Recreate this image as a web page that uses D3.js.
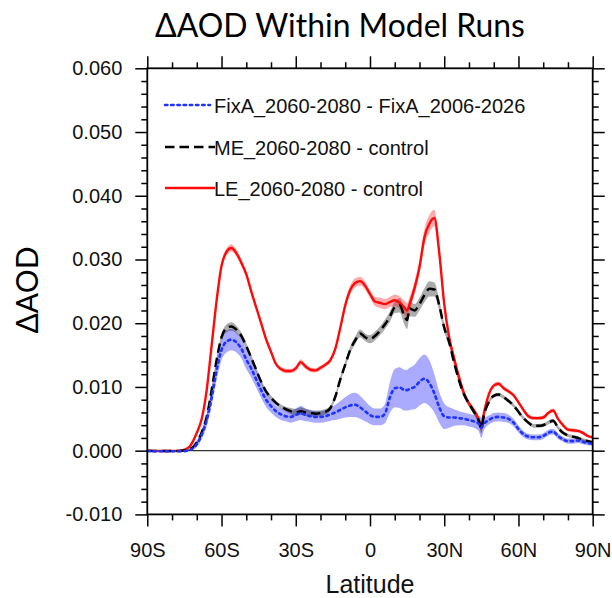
<!DOCTYPE html>
<html><head><meta charset="utf-8">
<script src="https://cdn.jsdelivr.net/npm/d3@7"></script>
<style>body{margin:0;background:#fff}svg{display:block}</style>
</head><body><svg id="c" width="612" height="598"></svg>
<script>
// ---- data (values in units of 0.001 AOD) ----
const lats = [-90,-85,-80,-76,-73,-70,-68,-66,-64,-62,
  -60,-58,-56,-54,-52,-50,-48,-46,-44,-42,
  -40,-38,-36,-34,-32,-30,-28,-26,-24,-22,
  -20,-18,-16,-14,-12,-10,-8,-6,-4,-2,
  0,2,4,6,8,10,12,14,15,16,
  18,20,22,24,26,28,30,32,34,36,
  38,40,42,44,45,46,48,50,52,54,
  56,58,60,62,64,66,68,70,72,74,
  76,78,80,82,84,86,88,90];

const leMean = [0,-0.05,-0.05,0.05,0.6,2.8,5.0,9.5,16.5,23.5,
  29.0,31.2,31.8,31.0,29.5,27.7,25.0,22.5,20.0,17.5,
  15.5,13.6,12.8,12.5,12.5,12.9,13.9,13.2,12.7,12.6,
  13.0,13.5,14.2,16.0,19.3,22.8,25.2,26.3,26.6,25.9,
  24.6,23.4,23.2,23.0,23.3,23.6,23.2,22.4,22.0,23.0,
  25.5,28.8,33.5,35.6,36.5,31.0,23.0,17.8,14.5,11.5,
  9.0,7.4,6.3,4.8,3.7,5.8,8.8,10.2,10.5,9.8,
  9.3,8.7,7.6,6.4,5.4,5.1,5.1,5.2,5.9,6.3,
  5.0,4.0,3.3,3.2,3.1,2.8,2.3,2.1];

const meMean = [0,-0.05,-0.05,0,0.2,1.3,2.9,5.3,9.5,14.2,
  17.8,19.2,19.5,19.0,18.0,16.4,14.6,12.7,10.8,9.3,
  8.3,7.5,6.9,6.5,6.2,6.0,6.2,6.0,5.9,5.8,
  5.9,6.1,6.7,8.5,11.2,13.5,15.8,17.3,18.4,17.8,
  17.5,18.0,18.8,19.8,21.0,22.5,22.8,21.0,20.5,22.3,
  22.0,23.0,24.4,25.4,25.3,22.8,19.3,17.0,13.8,11.0,
  8.8,7.4,6.1,4.7,3.5,5.5,7.6,8.6,8.8,8.4,
  7.8,7.1,6.1,5.1,4.4,3.9,3.9,4.0,4.4,4.7,
  3.6,2.8,2.4,2.2,2.0,1.7,1.5,1.3];

const fixaMean = [-0.05,-0.1,-0.1,-0.1,0.1,1.0,2.5,4.8,8.3,12.6,
  15.8,17.1,17.4,17.0,16.0,14.3,12.9,11.2,9.5,8.0,
  7.0,6.2,5.7,5.4,5.3,5.6,5.9,5.6,5.4,5.3,
  5.3,5.4,5.7,6.0,6.4,6.8,7.1,7.2,6.8,6.2,
  5.6,5.3,5.3,5.8,8.3,9.8,9.9,9.5,9.5,9.7,
  10.0,10.8,11.3,10.6,9.0,6.8,5.4,5.2,5.2,5.1,
  5.0,4.8,4.6,4.2,3.6,4.2,4.8,5.2,5.3,5.2,
  5.0,4.4,3.4,2.6,2.2,2.1,2.1,2.3,2.8,3.0,
  2.3,1.8,1.5,1.5,1.6,1.4,1.2,1.1];

const leSpread = [0,0,0,0.05,0.15,0.25,0.3,0.35,0.4,0.45,
  0.5,0.55,0.6,0.55,0.5,0.45,0.4,0.4,0.35,0.35,
  0.35,0.35,0.35,0.35,0.35,0.4,0.45,0.4,0.35,0.35,
  0.35,0.35,0.4,0.45,0.5,0.6,0.7,0.75,0.7,0.65,
  0.6,0.7,0.8,0.8,0.8,0.9,1.0,1.1,1.2,1.1,
  1.0,1.1,1.3,1.4,1.3,1.1,0.9,0.7,0.6,0.5,
  0.45,0.45,0.5,0.6,0.7,0.6,0.4,0.35,0.35,0.35,
  0.3,0.3,0.3,0.3,0.3,0.3,0.3,0.3,0.3,0.3,
  0.3,0.3,0.3,0.3,0.25,0.25,0.25,0.25];

const meSpread = [0,0,0,0.05,0.1,0.2,0.3,0.35,0.4,0.45,
  0.55,0.6,0.65,0.6,0.55,0.5,0.45,0.4,0.35,0.35,
  0.35,0.35,0.35,0.4,0.5,0.55,0.6,0.55,0.5,0.5,
  0.45,0.45,0.4,0.4,0.45,0.5,0.55,0.6,0.6,0.6,
  0.65,0.7,0.7,0.75,0.8,0.9,1.1,1.3,1.4,1.2,
  1.0,1.0,1.1,1.2,1.1,0.9,0.7,0.6,0.5,0.45,
  0.45,0.45,0.5,0.6,0.8,0.5,0.35,0.3,0.3,0.3,
  0.3,0.3,0.3,0.3,0.3,0.3,0.3,0.3,0.3,0.3,
  0.3,0.3,0.25,0.25,0.25,0.25,0.25,0.25];

const fixaSpread = [0,0,0,0.05,0.15,0.4,0.7,1.0,1.3,1.5,
  1.6,1.7,1.7,1.6,1.5,1.5,1.4,1.3,1.2,1.1,
  1.0,0.9,0.9,0.8,0.9,1.0,1.1,1.0,0.9,0.9,
  0.9,0.9,1.0,1.2,1.4,1.6,1.8,1.9,1.8,1.6,
  1.4,1.3,1.3,1.5,2.4,3.0,3.2,3.2,3.2,3.3,
  3.5,3.7,3.8,3.6,3.0,2.4,2.0,1.6,1.3,1.1,
  1.0,1.0,1.0,1.2,1.6,1.0,0.7,0.7,0.7,0.7,
  0.65,0.6,0.55,0.5,0.45,0.45,0.45,0.45,0.45,0.45,
  0.45,0.4,0.4,0.4,0.4,0.4,0.35,0.35];

const xTickValues = [-90,-60,-30,0,30,60,90];
const xTickLabels = ["90S","60S","30S","0","30N","60N","90N"];
const xMinorValues = [-80,-70,-50,-40,-20,-10,10,20,40,50,70,80];
const yTickValues = [-10,0,10,20,30,40,50,60];
const yTickLabels = ["-0.010","0.000","0.010","0.020","0.030","0.040","0.050","0.060"];
const yMinorValues = [-8,-6,-4,-2,2,4,6,8,12,14,16,18,22,24,26,28,32,34,36,38,42,44,46,48,52,54,56,58];
const seriesNames = ["FixA_2060-2080 - FixA_2006-2026","ME_2060-2080 - control","LE_2060-2080 - control"];
const titleText = "\u0394AOD Within Model Runs";
const yLabelText = "\u0394AOD";
const xLabelText = "Latitude";

// ---- layout ----
const svg = d3.select("#c");
const L = 147.3, R = 592.7, T = 68.3, B = 514.4;
const x = d3.scaleLinear().domain([-90, 90]).range([L, R]);
const y = d3.scaleLinear().domain([-10, 60]).range([B, T]);
const tickFont = "'Liberation Sans', Arial, Helvetica, sans-serif";

const series = [
  {name: seriesNames[2], mean: leMean, spread: leSpread, color: "#ff0a0a", band: "#ff0000", bandOp: 0.33, dash: null, width: 2.4, cap: "butt"},
  {name: seriesNames[1], mean: meMean, spread: meSpread, color: "#000000", band: "#000000", bandOp: 0.33, dash: "9.5,5", width: 2.5, cap: "butt"},
  {name: seriesNames[0], mean: fixaMean, spread: fixaSpread, color: "#1f33ff", band: "#2a2aff", bandOp: 0.4, dash: "2.4,3.8", width: 2.6, cap: "round"}
];

const plot = svg.append("g");
const area = d3.area().x(d => x(d.lat)).y0(d => y(d.m - d.s)).y1(d => y(d.m + d.s)).curve(d3.curveMonotoneX);
const line = d3.line().x(d => x(d.lat)).y(d => y(d.m)).curve(d3.curveMonotoneX);
const pts = s => lats.map((lat, i) => ({lat, m: s.mean[i], s: s.spread[i]}));

[series[2], series[1], series[0]].forEach(s => {
  plot.append("path").attr("d", area(pts(s))).attr("fill", s.band).attr("fill-opacity", s.bandOp);
});

plot.append("line").attr("x1", L).attr("x2", R).attr("y1", y(0)).attr("y2", y(0))
  .attr("stroke", "#333").attr("stroke-width", 1.2);

series.forEach(s => {
  plot.append("path").attr("d", line(pts(s))).attr("fill", "none")
    .attr("stroke", s.color).attr("stroke-width", s.width)
    .attr("stroke-dasharray", s.dash).attr("stroke-linecap", s.cap);
});

function styleAxis(g) {
  g.select(".domain").remove();
  g.selectAll("line").attr("stroke", "#000").attr("stroke-width", 1.5);
  g.selectAll("text").attr("font-family", tickFont).attr("font-size", 20).attr("fill", "#111");
}
const gb = svg.append("g").attr("transform", `translate(0,${B})`)
  .call(d3.axisBottom(x).tickValues(xTickValues).tickFormat((d, i) => xTickLabels[i]).tickSize(12));
styleAxis(gb);
gb.selectAll("text").attr("dy", "0").attr("y", 42.3);
const gbm = svg.append("g").attr("transform", `translate(0,${B})`)
  .call(d3.axisBottom(x).tickValues(xMinorValues).tickFormat("").tickSize(6));
styleAxis(gbm);
const gt = svg.append("g").attr("transform", `translate(0,${T})`)
  .call(d3.axisTop(x).tickValues(xTickValues).tickFormat("").tickSize(12));
styleAxis(gt);
const gtm = svg.append("g").attr("transform", `translate(0,${T})`)
  .call(d3.axisTop(x).tickValues(xMinorValues).tickFormat("").tickSize(6));
styleAxis(gtm);
const gl = svg.append("g").attr("transform", `translate(${L},0)`)
  .call(d3.axisLeft(y).tickValues(yTickValues).tickFormat((d, i) => yTickLabels[i]).tickSize(12).tickPadding(13));
styleAxis(gl);
const glm = svg.append("g").attr("transform", `translate(${L},0)`)
  .call(d3.axisLeft(y).tickValues(yMinorValues).tickFormat("").tickSize(6));
styleAxis(glm);
const gr = svg.append("g").attr("transform", `translate(${R},0)`)
  .call(d3.axisRight(y).tickValues(yTickValues).tickFormat("").tickSize(12));
styleAxis(gr);
const grm = svg.append("g").attr("transform", `translate(${R},0)`)
  .call(d3.axisRight(y).tickValues(yMinorValues).tickFormat("").tickSize(6));
styleAxis(grm);

svg.append("rect").attr("x", L).attr("y", T).attr("width", R - L).attr("height", B - T)
  .attr("fill", "none").attr("stroke", "#000").attr("stroke-width", 1.8);

// legend
const legRows = [105, 147, 188];
const legOrder = [series[2], series[1], series[0]];
legOrder.forEach((s, i) => {
  const yy = legRows[i];
  svg.append("line").attr("x1", 165).attr("x2", i === 0 ? 210 : 215).attr("y1", yy).attr("y2", yy)
    .attr("stroke", s.color).attr("stroke-width", s.width).attr("stroke-dasharray", s.dash)
    .attr("stroke-linecap", s.cap);
  svg.append("text").attr("x", 214).attr("y", yy + 7.5).text(s.name)
    .attr("font-family", tickFont).attr("font-size", 20).attr("fill", "#111");
});

svg.append("text").attr("x", (L + R) / 2).attr("y", 593).attr("text-anchor", "middle")
  .attr("font-family", tickFont).attr("font-size", 25).attr("fill", "#111").text(xLabelText);

const title = svg.append("text").attr("x", 340).attr("y", 37).attr("text-anchor", "middle")
  .attr("font-family", "Lato, 'Open Sans', sans-serif").attr("font-size", 32).attr("fill", "#000").text(titleText);
const tw = title.node().getComputedTextLength();
title.attr("font-size", 32 * 370 / tw);

const yl = svg.append("text").attr("transform", "translate(38,290) rotate(-90)").attr("text-anchor", "middle")
  .attr("font-family", "Lato, 'Open Sans', sans-serif").attr("font-size", 32).attr("fill", "#000").text(yLabelText);
const yw = yl.node().getComputedTextLength();
yl.attr("font-size", 32 * 87 / yw);
</script>
</body></html>
